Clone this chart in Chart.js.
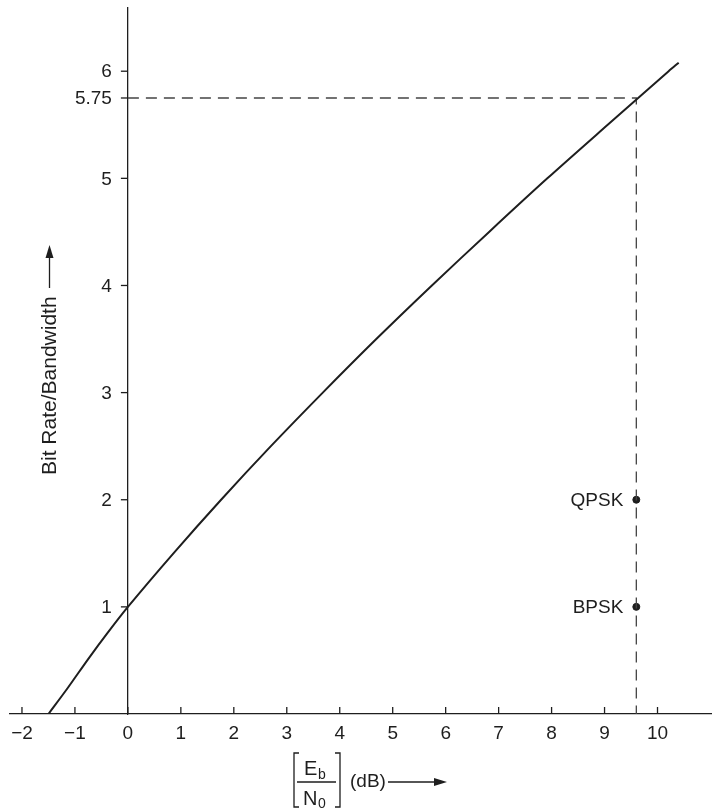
<!DOCTYPE html>
<html lang="en">
<head>
    <meta charset="UTF-8">
    <title>Bit rate / bandwidth vs Eb/N0</title>
    <script src="https://cdn.jsdelivr.net/npm/chart.js"></script>
    <style>
        html, body { margin: 0; padding: 0; background: #fff; overflow: hidden; }
        canvas { display: block; }
    </style>
</head>
<body>
    <canvas id="myChart" width="716" height="809"></canvas>

    <script>
        // values
        var curveDb   = [-1.5, -1.14, -0.74, -0.38, 0, 0.86, 1.76, 2.7, 3.68, 4.69, 5.74, 6.82, 7.92, 9.06, 10.21, 10.4];
        var curveRate = [0, 0.24, 0.52, 0.76, 1, 1.5, 2, 2.5, 3, 3.5, 4, 4.5, 5, 5.5, 6, 6.08];

        var limitDb = 9.6;
        var limitRate = 5.75;

        var modNames = ['QPSK', 'BPSK'];
        var modRates = [2, 1];

        var xTickValues = [-2, -1, 0, 1, 2, 3, 4, 5, 6, 7, 8, 9, 10];
        var yTickValues = [1, 2, 3, 4, 5, 5.75, 6];

        var ink = '#1e1e1e';
        var font = 'Liberation Sans, Arial, sans-serif';

        function arrow(ctx, x1, y1, x2, y2) {
            var ang = Math.atan2(y2 - y1, x2 - x1);
            ctx.beginPath();
            ctx.moveTo(x1, y1);
            ctx.lineTo(x2 - 10 * Math.cos(ang), y2 - 10 * Math.sin(ang));
            ctx.stroke();
            ctx.beginPath();
            ctx.moveTo(x2, y2);
            ctx.lineTo(x2 - 13 * Math.cos(ang) + 4 * Math.sin(ang), y2 - 13 * Math.sin(ang) - 4 * Math.cos(ang));
            ctx.lineTo(x2 - 13 * Math.cos(ang) - 4 * Math.sin(ang), y2 - 13 * Math.sin(ang) + 4 * Math.cos(ang));
            ctx.closePath();
            ctx.fill();
        }

        var extras = {
            id: 'extras',
            afterDraw: function (chart) {
                var ctx = chart.ctx;
                var x = chart.scales.x, y = chart.scales.y;
                var x0 = x.getPixelForValue(0);
                ctx.save();
                ctx.strokeStyle = ink;
                ctx.fillStyle = ink;
                ctx.lineWidth = 1.3;

                // x ticks point up into the plot
                xTickValues.forEach(function (v) {
                    var px = x.getPixelForValue(v);
                    ctx.beginPath();
                    ctx.moveTo(px, y.bottom);
                    ctx.lineTo(px, y.bottom - 7);
                    ctx.stroke();
                });

                // y ticks and labels, left of the axis at x = 0
                ctx.font = '19px ' + font;
                ctx.textAlign = 'right';
                ctx.textBaseline = 'middle';
                yTickValues.forEach(function (v) {
                    var py = y.getPixelForValue(v);
                    ctx.beginPath();
                    ctx.moveTo(x0, py);
                    ctx.lineTo(x0 - 7, py);
                    ctx.stroke();
                    ctx.fillText(String(v), x0 - 16, py + 1);
                });

                // modulation labels
                chart.getDatasetMeta(2).data.forEach(function (pt, i) {
                    ctx.fillText(modNames[i], pt.x - 13, pt.y + 1);
                });

                // y title
                ctx.save();
                ctx.translate(50, 475);
                ctx.rotate(-Math.PI / 2);
                ctx.font = '21px ' + font;
                ctx.textAlign = 'left';
                ctx.textBaseline = 'middle';
                ctx.fillText('Bit Rate/Bandwidth', 0, 0);
                ctx.restore();
                arrow(ctx, 49.5, 288, 49.5, 245);

                // x title: [Eb/N0] (dB) -->
                ctx.lineWidth = 1.3;
                ctx.beginPath();
                ctx.moveTo(299, 753); ctx.lineTo(294, 753); ctx.lineTo(294, 807); ctx.lineTo(299, 807);
                ctx.moveTo(335, 753); ctx.lineTo(340, 753); ctx.lineTo(340, 807); ctx.lineTo(335, 807);
                ctx.moveTo(297, 782); ctx.lineTo(336, 782);
                ctx.stroke();
                ctx.textAlign = 'left';
                ctx.textBaseline = 'alphabetic';
                ctx.font = '20px ' + font;
                ctx.fillText('E', 304, 775);
                ctx.fillText('N', 303, 805);
                ctx.font = '14px ' + font;
                ctx.fillText('b', 318, 779);
                ctx.fillText('0', 318, 808);
                ctx.font = '19px ' + font;
                ctx.textBaseline = 'middle';
                ctx.fillText('(dB)', 350, 782);
                arrow(ctx, 388, 782, 447, 782);

                ctx.restore();
            }
        };

        var data = {
            datasets: [{
                label: 'Limit',
                data: curveDb.map(function (v, i) { return { x: v, y: curveRate[i] }; }),
                borderColor: ink,
                borderWidth: 2,
                pointRadius: 0,
                tension: 0.3,
                showLine: true
            }, {
                label: 'Guide',
                data: [{ x: 0, y: limitRate }, { x: limitDb, y: limitRate }, { x: limitDb, y: 0 }],
                borderColor: '#444',
                borderWidth: 1.3,
                borderDash: [11, 7],
                pointRadius: 0,
                showLine: true
            }, {
                label: 'Modulation',
                data: modRates.map(function (r) { return { x: limitDb, y: r }; }),
                backgroundColor: ink,
                borderColor: ink,
                pointRadius: 3.5,
                showLine: false
            }]
        };

        var config = {
            type: 'scatter',
            data: data,
            options: {
                responsive: false,
                animation: false,
                devicePixelRatio: 1,
                layout: { padding: { left: 10, right: 0, top: 8, bottom: 0 } },
                plugins: { legend: { display: false }, tooltip: { enabled: false } },
                scales: {
                    x: {
                        type: 'linear',
                        min: -2.226,
                        max: 11.01,
                        afterBuildTicks: function (s) { s.ticks = xTickValues.map(function (v) { return { value: v }; }); },
                        afterFit: function (s) {
                            s.height = 95;
                            s.paddingLeft = 0;
                            s.paddingRight = 0;
                        },
                        grid: { drawOnChartArea: false, drawTicks: false },
                        border: { display: true, color: ink, width: 1.3 },
                        ticks: {
                            color: ink,
                            font: { family: font, size: 19 },
                            padding: 8,
                            maxRotation: 0,
                            callback: function (v) { return String(v).replace('-', '\u2212'); }
                        }
                    },
                    y: {
                        type: 'linear',
                        position: { x: 0 },
                        min: 0,
                        max: 6.59,
                        grid: { display: false },
                        border: { display: true, color: ink, width: 1.3 },
                        ticks: { display: false }
                    }
                }
            },
            plugins: [extras]
        };

        var myChart = new Chart(document.getElementById('myChart'), config);
    </script>
</body>
</html>
